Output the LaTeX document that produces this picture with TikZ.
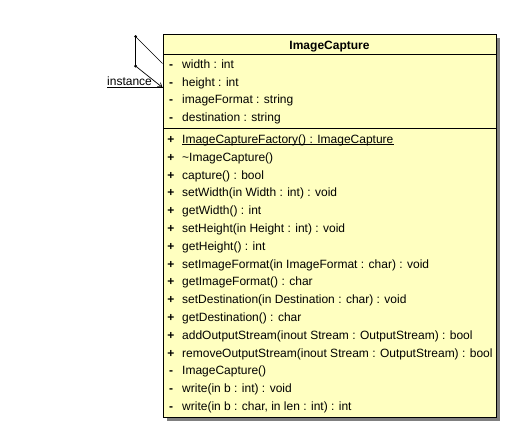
\documentclass[tikz,border=0pt]{standalone}
\usepackage{fontspec}
\setmainfont{Liberation Sans}
\usetikzlibrary{arrows.meta}
\definecolor{classfill}{RGB}{255,255,192}
\definecolor{shadowgray}{RGB}{128,128,128}
\tikzset{
  classbox/.style={draw=black, line width=1pt, fill=classfill, rectangle, inner sep=0pt},
  member/.style={anchor=base west, inner sep=0pt, font=\fontsize{12}{14}\selectfont},
  vis/.style={anchor=base, inner sep=0pt, font=\fontsize{12}{14}\selectfont\bfseries},
  title/.style={anchor=base, inner sep=0pt, font=\fontsize{12}{14}\selectfont\bfseries},
  assoc/.style={draw=black, line width=0.7pt},
  bendpt/.style={fill=black, circle, inner sep=0pt, minimum size=3pt},
}
\begin{document}
\begin{tikzpicture}[x=1pt,y=-1pt]
\useasboundingbox (0,0) rectangle (511,434);
% shadow
\fill[shadowgray] (167,38) rectangle (500,421);
% class box
\node[classbox, minimum width=333pt, minimum height=383pt] (cls) at (329.5,225.5) {};
\draw[line width=0.8pt] (163,54) -- (496,54);
\draw[line width=0.8pt] (163,128) -- (496,128);
\node[title] (ttl) at (329.5,49) {ImageCapture};
% attributes
\foreach \t [count=\i from 0] in {{width : int},{height : int},{imageFormat : string},{destination : string}} {
  \node[vis] (av\i) at (171,68.3+17.7*\i) {-};
  \node[member] (a\i) at (182,68.3+17.7*\i) {\t};
}
% methods
\foreach \v/\t [count=\i from 0] in {
  +/{ImageCaptureFactory() : ImageCapture},
  +/{\textasciitilde ImageCapture()},
  +/{capture() : bool},
  +/{setWidth(in Width : int) : void},
  +/{getWidth() : int},
  +/{setHeight(in Height : int) : void},
  +/{getHeight() : int},
  +/{setImageFormat(in ImageFormat : char) : void},
  +/{getImageFormat() : char},
  +/{setDestination(in Destination : char) : void},
  +/{getDestination() : char},
  +/{addOutputStream(inout Stream : OutputStream) : bool},
  +/{removeOutputStream(inout Stream : OutputStream) : bool},
  -/{ImageCapture()},
  -/{write(in b : int) : void},
  -/{write(in b : char, in len : int) : int}} {
  \node[vis] (mv\i) at (171,143.5+17.8*\i) {\v};
  \node[member] (m\i) at (182,143.5+17.8*\i) {\t};
}
% static member underline
\draw[line width=0.7pt] ([yshift=-1.3pt]m0.base west) -- ([yshift=-1.3pt]m0.base east);
% self association
\coordinate (A) at (135.5,36.5);
\coordinate (B) at (135.5,66);
\draw[assoc] (cls.west |- 0,63.5) -- (A) -- (B);
\draw[assoc, -{Straight Barb[length=4pt,width=5pt]}] (B) -- (cls.west |- 0,87.5);
\node[bendpt] (dA) at (A) {};
\node[bendpt] (dB) at (B) {};
\node[member] (inst) at (107,85) {instance};
\coordinate (u0) at (107,87.7);
\draw[line width=0.7pt] (u0) -- (cls.west |- u0);
\end{tikzpicture}
\end{document}
